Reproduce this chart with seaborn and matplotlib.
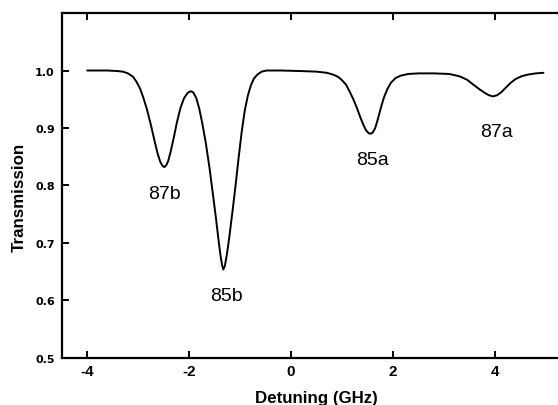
import matplotlib
matplotlib.use("Agg")
import matplotlib.pyplot as plt
import seaborn as sns
import pandas as pd

# Detuning (GHz) and transmission
detuning = [-4.0, -3.6, -3.4, -3.3, -3.2, -3.1, -3.03, -2.96, -2.9, -2.83,
            -2.75, -2.68, -2.62, -2.57, -2.53, -2.49, -2.45, -2.41, -2.36, -2.30,
            -2.24, -2.17, -2.10, -2.03, -1.97, -1.92, -1.86, -1.80, -1.74, -1.67,
            -1.60, -1.53, -1.47, -1.42, -1.38, -1.35, -1.33, -1.30, -1.26, -1.21,
            -1.15, -1.09, -1.03, -0.97, -0.91, -0.85, -0.79, -0.73, -0.66, -0.58,
            -0.48, -0.2, 0.2, 0.5, 0.7, 0.82, 0.92, 1.0, 1.08, 1.15,
            1.22, 1.29, 1.36, 1.42, 1.47, 1.52, 1.56, 1.60, 1.65, 1.70,
            1.76, 1.82, 1.89, 1.96, 2.05, 2.15, 2.3, 2.5, 2.8, 3.1,
            3.3, 3.45, 3.58, 3.70, 3.80, 3.88, 3.96, 4.04, 4.12, 4.21,
            4.30, 4.40, 4.52, 4.65, 4.80, 4.95]
transmission = [1.0, 1.0, 0.999, 0.998, 0.995, 0.989, 0.980, 0.968, 0.953, 0.933,
                0.905, 0.878, 0.856, 0.842, 0.835, 0.832, 0.835, 0.843, 0.860, 0.884,
                0.910, 0.935, 0.952, 0.961, 0.964, 0.962, 0.952, 0.933, 0.907, 0.872,
                0.830, 0.782, 0.740, 0.702, 0.675, 0.660, 0.654, 0.660, 0.680, 0.712,
                0.755, 0.800, 0.848, 0.893, 0.930, 0.956, 0.974, 0.986, 0.993, 0.998,
                1.0, 1.0, 0.999, 0.998, 0.996, 0.993, 0.989, 0.983, 0.975, 0.963,
                0.950, 0.935, 0.918, 0.905, 0.896, 0.891, 0.890, 0.892, 0.900, 0.915,
                0.935, 0.953, 0.968, 0.979, 0.987, 0.991, 0.994, 0.995, 0.995, 0.994,
                0.990, 0.984, 0.975, 0.967, 0.961, 0.957, 0.955, 0.957, 0.962, 0.970,
                0.978, 0.985, 0.990, 0.993, 0.995, 0.996]

peak_labels = ["87b", "85b", "85a", "87a"]
label_x = [-2.49, -1.27, 1.60, 4.03]
label_y = [0.786, 0.608, 0.846, 0.894]

x_ticks = [-4, -2, 0, 2, 4]
y_ticks = [0.5, 0.6, 0.7, 0.8, 0.9, 1.0]

sns.set_theme(style="ticks")
plt.rcParams["font.family"] = ["Liberation Sans", "DejaVu Sans"]

fig = plt.figure(figsize=(5.58, 4.06), dpi=100)
ax = fig.add_axes([0.1106, 0.1158, 0.9136, 0.8497])

df = pd.DataFrame({"Detuning": detuning, "Transmission": transmission})
sns.lineplot(data=df, x="Detuning", y="Transmission", color="black",
             linewidth=1.4, ax=ax, sort=False)

for t, xx, yy in zip(peak_labels, label_x, label_y):
    ax.text(xx, yy, t, ha="center", va="center", fontsize=14, color="black")

ax.set_xlim(-4.5, 5.5)
ax.set_ylim(0.5, 1.1)
ax.set_xticks(x_ticks)
ax.set_xticklabels([str(v) for v in x_ticks])
ax.set_yticks(y_ticks)
ax.set_yticklabels([f"{v:.1f}" for v in y_ticks])

for s in ax.spines.values():
    s.set_linewidth(1.6)
    s.set_color("black")

ax.tick_params(axis="x", direction="in", top=True, length=5, width=1.4,
               labelsize=11, pad=4, colors="black")
ax.tick_params(axis="y", direction="in", right=False, length=5, width=1.4,
               labelsize=8, pad=5, colors="black")
for lab in ax.get_xticklabels():
    lab.set_fontweight("bold")
for lab in ax.get_yticklabels():
    lab.set_fontweight("bold")
    lab.set_family(["DejaVu Sans"])

ax.set_xlabel("Detuning (GHz)", fontsize=12.2, fontweight="bold", color="black")
ax.set_ylabel("Transmission", fontsize=12.2, fontweight="bold", color="black")
ax.xaxis.set_label_coords(0.5, -0.093)
ax.yaxis.set_label_coords(-0.068, 0.468)

fig.savefig("out.png", dpi=100, facecolor="white")
